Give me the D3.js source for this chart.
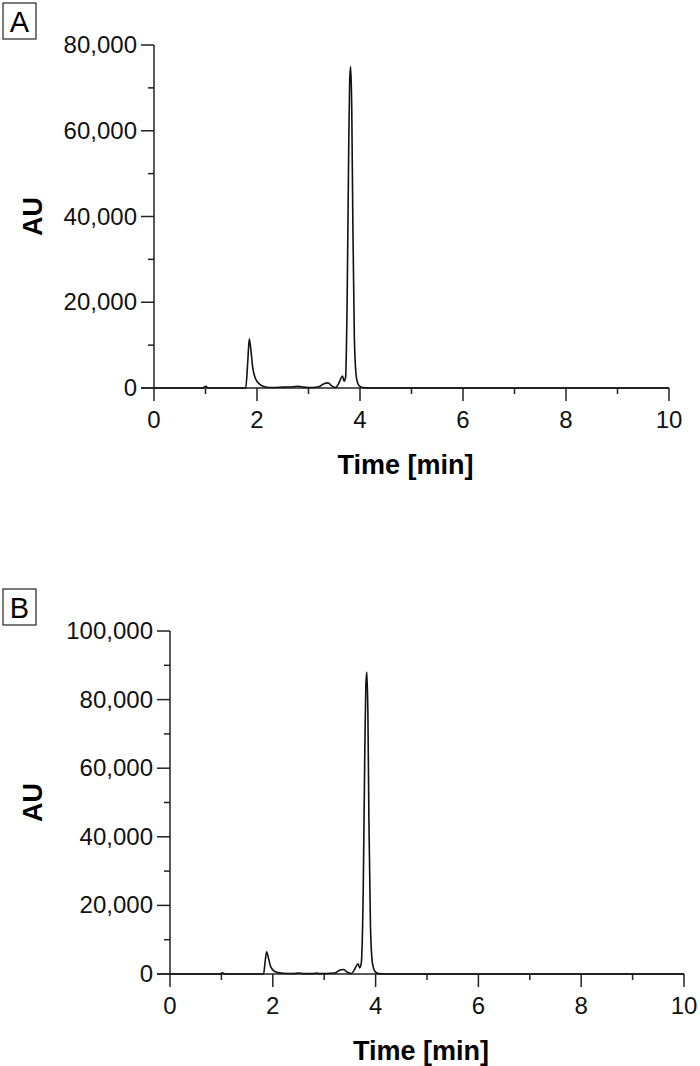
<!DOCTYPE html>
<html><head><meta charset="utf-8">
<script src="https://cdn.jsdelivr.net/npm/d3@7"></script>
<style>body{margin:0;background:#fff}</style></head>
<body><svg id="c" width="700" height="1066"></svg>
<script>
const xTicks=[0,2,4,6,8,10];
const timeA=[0,0.95,1.0,1.05,1.78,1.82,1.85,1.88,1.92,1.97,2.05,2.15,2.3,2.5,2.7,2.8,2.9,3.0,3.2,3.3,3.38,3.45,3.52,3.58,3.62,3.66,3.69,3.72,3.75,3.78,3.8,3.82,3.84,3.86,3.89,3.93,3.98,4.05,4.2,10];
const valA=[0,0,400,0,0,6000,11500,9000,4500,2200,900,300,100,200,300,400,200,100,300,1000,1200,500,100,900,2000,2800,1600,2500,20000,55000,72000,75000,65000,40000,12000,2500,600,100,0,0];
const timeB=[0,0.98,1.02,1.07,1.82,1.85,1.88,1.91,1.95,2.0,2.08,2.2,2.4,2.5,2.6,2.8,2.85,2.9,3.2,3.3,3.38,3.45,3.52,3.58,3.62,3.66,3.69,3.72,3.76,3.79,3.81,3.83,3.85,3.87,3.9,3.94,3.99,4.06,4.2,10];
const valB=[0,0,350,0,0,3500,6500,5000,2500,1200,500,200,100,300,100,100,300,100,300,1100,1300,500,150,1000,2200,3000,1800,3000,25000,65000,84000,88000,76000,45000,14000,3000,700,100,0,0];

const svg=d3.select("#c");
const font="Liberation Sans, Arial, sans-serif";
function panel(cfg){
  const x=d3.scaleLinear().domain([0,10]).range([cfg.x0,cfg.x1]);
  const y=d3.scaleLinear().domain([0,cfg.ymax]).range([cfg.y0,cfg.y1]);
  const g=svg.append("g");
  const xa=g.append("g").attr("transform",`translate(0,${cfg.y0})`);
  xa.append("line").attr("x1",cfg.x0-13).attr("x2",cfg.x1).attr("stroke","#222").attr("stroke-width",1.5);
  d3.range(0,11,1).forEach(v=>{
    const maj=v%2===0;
    xa.append("line").attr("x1",x(v)).attr("x2",x(v)).attr("y1",0).attr("y2",maj?13:6).attr("stroke","#222").attr("stroke-width",1.5);
  });
  xTicks.forEach(v=>xa.append("text").attr("x",x(v)).attr("y",40).attr("text-anchor","middle")
    .attr("font-family",font).attr("font-size",24).attr("fill","#111").text(v));
  const ya=g.append("g").attr("transform",`translate(${cfg.x0},0)`);
  ya.append("line").attr("y1",cfg.y0).attr("y2",cfg.y1).attr("stroke","#222").attr("stroke-width",1.5);
  d3.range(0,cfg.ymax+1,10000).forEach(v=>{
    const maj=v%20000===0;
    ya.append("line").attr("x1",0).attr("x2",maj?-13:-6).attr("y1",y(v)).attr("y2",y(v)).attr("stroke","#222").attr("stroke-width",1.5);
    if(maj) ya.append("text").attr("x",-17).attr("y",y(v)+8).attr("text-anchor","end")
      .attr("font-family",font).attr("font-size",24).attr("fill","#111").text(d3.format(",")(v));
  });
  g.append("text").attr("x",(cfg.x0+cfg.x1)/2-6).attr("y",cfg.y0+86).attr("text-anchor","middle")
    .attr("font-family",font).attr("font-weight","bold").attr("font-size",27).text("Time [min]");
  g.append("text").attr("transform",`translate(42,${(cfg.y0+cfg.y1)/2}) rotate(-90)`).attr("text-anchor","middle")
    .attr("font-family",font).attr("font-weight","bold").attr("font-size",27).text("AU");
  g.append("rect").attr("x",3).attr("y",cfg.ly).attr("width",33).attr("height",36).attr("fill","none").attr("stroke","#222").attr("stroke-width",1.2);
  g.append("text").attr("x",19.5).attr("y",cfg.ly+29).attr("text-anchor","middle")
    .attr("font-family",font).attr("font-size",29).text(cfg.label);
  const pts=cfg.t.map((t,i)=>[t,cfg.v[i]]);
  g.append("path").datum(pts).attr("fill","none").attr("stroke","#111").attr("stroke-width",1.6)
    .attr("d",d3.line().x(d=>x(d[0])).y(d=>y(d[1])).curve(d3.curveMonotoneX));
}
panel({x0:154,x1:669,y0:388,y1:45,ymax:80000,t:timeA,v:valA,label:"A",ly:3});
panel({x0:170,x1:684,y0:974,y1:631,ymax:100000,t:timeB,v:valB,label:"B",ly:589});
</script></body></html>
